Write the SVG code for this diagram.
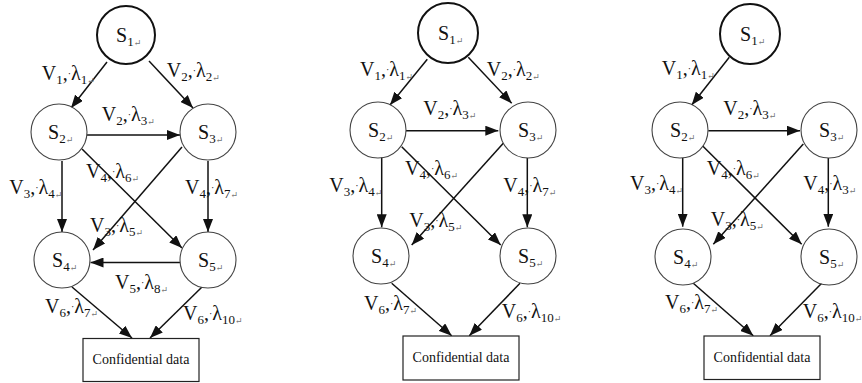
<svg xmlns="http://www.w3.org/2000/svg" width="862" height="383" viewBox="0 0 862 383">
<style>
.bg{fill:#fff}
.n{fill:#fff;stroke:#444;stroke-width:1.1}
.n1{fill:#fff;stroke:#111;stroke-width:2}
.box{fill:#fff;stroke:#222;stroke-width:1.2}
.e{stroke:#111;stroke-width:1.5;fill:none;marker-end:url(#ah)}
.t{font-family:'Liberation Serif','DejaVu Serif',serif;fill:#111}
.lbl{font-size:20px}
.sub{font-size:13px}
.dot{font-size:10px}
.ret{font-size:9px;fill:#777}
.bt{font-size:14px}
</style>
<defs>
<marker id="ah" markerUnits="userSpaceOnUse" markerWidth="13" markerHeight="10" refX="13" refY="5" orient="auto">
<path d="M0,0 L13,5 L0,10 z" fill="#111"/>
</marker>
</defs>
<rect class="bg" x="0" y="0" width="862" height="383"/>

<g id="connectors">
<line class="e" x1="107" y1="62" x2="71" y2="108"/>
<line class="e" x1="149" y1="61" x2="193" y2="108"/>
<line class="e" x1="87" y1="135" x2="180" y2="135"/>
<line class="e" x1="82" y1="149" x2="182" y2="248"/>
<line class="e" x1="182" y1="147" x2="93" y2="250"/>
<line class="e" x1="62" y1="161" x2="62" y2="232"/>
<line class="e" x1="208" y1="161" x2="208" y2="232"/>
<line class="e" x1="180" y1="262.5" x2="90.5" y2="262.5"/>
<line class="e" x1="72" y1="287" x2="132" y2="338"/>
<line class="e" x1="202" y1="287" x2="150" y2="338"/>
<line class="e" x1="427.3" y1="59.3" x2="390" y2="105"/>
<line class="e" x1="468.3" y1="57.3" x2="511.7" y2="103.3"/>
<line class="e" x1="406" y1="130.7" x2="498.3" y2="130.7"/>
<line class="e" x1="401.7" y1="146.7" x2="500.7" y2="245"/>
<line class="e" x1="503.3" y1="143.3" x2="411.7" y2="245"/>
<line class="e" x1="381.7" y1="156.7" x2="381.7" y2="227.3"/>
<line class="e" x1="527.3" y1="156.7" x2="527.3" y2="227.3"/>
<line class="e" x1="391.7" y1="283.3" x2="451.7" y2="335.7"/>
<line class="e" x1="520" y1="283.3" x2="469.3" y2="335.7"/>
<line class="e" x1="729.3" y1="57.3" x2="691.7" y2="105"/>
<line class="e" x1="708.3" y1="130.7" x2="800" y2="130.7"/>
<line class="e" x1="701.7" y1="145" x2="801.7" y2="244.3"/>
<line class="e" x1="803.3" y1="144" x2="713.3" y2="244.3"/>
<line class="e" x1="682.7" y1="158" x2="682.7" y2="226.7"/>
<line class="e" x1="828.3" y1="158" x2="828.3" y2="226.7"/>
<line class="e" x1="693.3" y1="283.3" x2="753.3" y2="335.7"/>
<line class="e" x1="821.7" y1="283.3" x2="770" y2="335.7"/>
</g>

<g id="edge-labels" class="t lbl" font-family="'Liberation Serif','DejaVu Serif',serif">
<text x="41.7" y="80">V<tspan class="sub" dy="4">1</tspan><tspan dy="-4">,</tspan><tspan class="dot" dy="-3">·</tspan><tspan dy="3">λ</tspan><tspan class="sub" dy="4">1</tspan><tspan class="ret">↵</tspan></text>
<text x="166.7" y="77">V<tspan class="sub" dy="4">2</tspan><tspan dy="-4">,</tspan><tspan class="dot" dy="-3">·</tspan><tspan dy="3">λ</tspan><tspan class="sub" dy="4">2</tspan><tspan class="ret">↵</tspan></text>
<text x="101.7" y="120.7">V<tspan class="sub" dy="4">2</tspan><tspan dy="-4">,</tspan><tspan class="dot" dy="-3">·</tspan><tspan dy="3">λ</tspan><tspan class="sub" dy="4">3</tspan><tspan class="ret">↵</tspan></text>
<text x="86" y="178">V<tspan class="sub" dy="4">4</tspan><tspan dy="-4">,</tspan><tspan class="dot" dy="-3">·</tspan><tspan dy="3">λ</tspan><tspan class="sub" dy="4">6</tspan><tspan class="ret">↵</tspan></text>
<text x="9.3" y="194">V<tspan class="sub" dy="4">3</tspan><tspan dy="-4">,</tspan><tspan class="dot" dy="-3">·</tspan><tspan dy="3">λ</tspan><tspan class="sub" dy="4">4</tspan><tspan class="ret">↵</tspan></text>
<text x="185" y="194">V<tspan class="sub" dy="4">4</tspan><tspan dy="-4">,</tspan><tspan class="dot" dy="-3">·</tspan><tspan dy="3">λ</tspan><tspan class="sub" dy="4">7</tspan><tspan class="ret">↵</tspan></text>
<text x="90" y="231.7">V<tspan class="sub" dy="4">3</tspan><tspan dy="-4">,</tspan><tspan class="dot" dy="-3">·</tspan><tspan dy="3">λ</tspan><tspan class="sub" dy="4">5</tspan><tspan class="ret">↵</tspan></text>
<text x="115" y="289">V<tspan class="sub" dy="4">5</tspan><tspan dy="-4">,</tspan><tspan class="dot" dy="-3">·</tspan><tspan dy="3">λ</tspan><tspan class="sub" dy="4">8</tspan><tspan class="ret">↵</tspan></text>
<text x="45" y="312.7">V<tspan class="sub" dy="4">6</tspan><tspan dy="-4">,</tspan><tspan class="dot" dy="-3">·</tspan><tspan dy="3">λ</tspan><tspan class="sub" dy="4">7</tspan><tspan class="ret">↵</tspan></text>
<text x="183" y="320">V<tspan class="sub" dy="4">6</tspan><tspan dy="-4">,</tspan><tspan class="dot" dy="-3">·</tspan><tspan dy="3">λ</tspan><tspan class="sub" dy="4">10</tspan><tspan class="ret">↵</tspan></text>
<text x="360" y="76">V<tspan class="sub" dy="4">1</tspan><tspan dy="-4">,</tspan><tspan class="dot" dy="-3">·</tspan><tspan dy="3">λ</tspan><tspan class="sub" dy="4">1</tspan><tspan class="ret">↵</tspan></text>
<text x="486.7" y="76">V<tspan class="sub" dy="4">2</tspan><tspan dy="-4">,</tspan><tspan class="dot" dy="-3">·</tspan><tspan dy="3">λ</tspan><tspan class="sub" dy="4">2</tspan><tspan class="ret">↵</tspan></text>
<text x="423.3" y="115">V<tspan class="sub" dy="4">2</tspan><tspan dy="-4">,</tspan><tspan class="dot" dy="-3">·</tspan><tspan dy="3">λ</tspan><tspan class="sub" dy="4">3</tspan><tspan class="ret">↵</tspan></text>
<text x="405" y="175">V<tspan class="sub" dy="4">4</tspan><tspan dy="-4">,</tspan><tspan class="dot" dy="-3">·</tspan><tspan dy="3">λ</tspan><tspan class="sub" dy="4">6</tspan><tspan class="ret">↵</tspan></text>
<text x="329.3" y="191.7">V<tspan class="sub" dy="4">3</tspan><tspan dy="-4">,</tspan><tspan class="dot" dy="-3">·</tspan><tspan dy="3">λ</tspan><tspan class="sub" dy="4">4</tspan><tspan class="ret">↵</tspan></text>
<text x="503.3" y="191.7">V<tspan class="sub" dy="4">4</tspan><tspan dy="-4">,</tspan><tspan class="dot" dy="-3">·</tspan><tspan dy="3">λ</tspan><tspan class="sub" dy="4">7</tspan><tspan class="ret">↵</tspan></text>
<text x="409.3" y="227.3">V<tspan class="sub" dy="4">3</tspan><tspan dy="-4">,</tspan><tspan class="dot" dy="-3">·</tspan><tspan dy="3">λ</tspan><tspan class="sub" dy="4">5</tspan><tspan class="ret">↵</tspan></text>
<text x="364" y="310">V<tspan class="sub" dy="4">6</tspan><tspan dy="-4">,</tspan><tspan class="dot" dy="-3">·</tspan><tspan dy="3">λ</tspan><tspan class="sub" dy="4">7</tspan><tspan class="ret">↵</tspan></text>
<text x="501.7" y="318.3">V<tspan class="sub" dy="4">6</tspan><tspan dy="-4">,</tspan><tspan class="dot" dy="-3">·</tspan><tspan dy="3">λ</tspan><tspan class="sub" dy="4">10</tspan><tspan class="ret">↵</tspan></text>
<text x="661.7" y="75">V<tspan class="sub" dy="4">1</tspan><tspan dy="-4">,</tspan><tspan class="dot" dy="-3">·</tspan><tspan dy="3">λ</tspan><tspan class="sub" dy="4">1</tspan><tspan class="ret">↵</tspan></text>
<text x="723.3" y="115">V<tspan class="sub" dy="4">2</tspan><tspan dy="-4">,</tspan><tspan class="dot" dy="-3">·</tspan><tspan dy="3">λ</tspan><tspan class="sub" dy="4">3</tspan><tspan class="ret">↵</tspan></text>
<text x="706.7" y="175">V<tspan class="sub" dy="4">4</tspan><tspan dy="-4">,</tspan><tspan class="dot" dy="-3">·</tspan><tspan dy="3">λ</tspan><tspan class="sub" dy="4">6</tspan><tspan class="ret">↵</tspan></text>
<text x="630" y="190">V<tspan class="sub" dy="4">3</tspan><tspan dy="-4">,</tspan><tspan class="dot" dy="-3">·</tspan><tspan dy="3">λ</tspan><tspan class="sub" dy="4">4</tspan><tspan class="ret">↵</tspan></text>
<text x="803.3" y="190">V<tspan class="sub" dy="4">4</tspan><tspan dy="-4">,</tspan><tspan class="dot" dy="-3">·</tspan><tspan dy="3">λ</tspan><tspan class="sub" dy="4">3</tspan><tspan class="ret">↵</tspan></text>
<text x="710.7" y="226">V<tspan class="sub" dy="4">3</tspan><tspan dy="-4">,</tspan><tspan class="dot" dy="-3">·</tspan><tspan dy="3">λ</tspan><tspan class="sub" dy="4">5</tspan><tspan class="ret">↵</tspan></text>
<text x="665" y="309">V<tspan class="sub" dy="4">6</tspan><tspan dy="-4">,</tspan><tspan class="dot" dy="-3">·</tspan><tspan dy="3">λ</tspan><tspan class="sub" dy="4">7</tspan><tspan class="ret">↵</tspan></text>
<text x="802.7" y="318.3">V<tspan class="sub" dy="4">6</tspan><tspan dy="-4">,</tspan><tspan class="dot" dy="-3">·</tspan><tspan dy="3">λ</tspan><tspan class="sub" dy="4">10</tspan><tspan class="ret">↵</tspan></text>
</g>

<g class="t" font-family="'Liberation Serif','DejaVu Serif',serif">
<g id="d1-S1"><circle class="n1" cx="126" cy="35" r="29"/><text class="lbl" x="116" y="42">S<tspan class="sub" dy="4">1</tspan><tspan class="ret">↵</tspan></text></g>
<g id="d1-S2"><circle class="n" cx="59" cy="132" r="28"/><text class="lbl" x="48" y="139">S<tspan class="sub" dy="4">2</tspan><tspan class="ret">↵</tspan></text></g>
<g id="d1-S3"><circle class="n" cx="208" cy="132" r="28"/><text class="lbl" x="198" y="139">S<tspan class="sub" dy="4">3</tspan><tspan class="ret">↵</tspan></text></g>
<g id="d1-S4"><circle class="n" cx="62" cy="260" r="28"/><text class="lbl" x="52" y="267">S<tspan class="sub" dy="4">4</tspan><tspan class="ret">↵</tspan></text></g>
<g id="d1-S5"><circle class="n" cx="208" cy="260" r="28"/><text class="lbl" x="198" y="267">S<tspan class="sub" dy="4">5</tspan><tspan class="ret">↵</tspan></text></g>
<g id="d1-data"><rect class="box" x="83" y="338.5" width="116" height="43"/><text class="bt" x="141" y="364" text-anchor="middle">Confidential data</text></g>

<g id="d2-S1"><circle class="n1" cx="448" cy="33" r="30"/><text class="lbl" x="438" y="40">S<tspan class="sub" dy="4">1</tspan><tspan class="ret">↵</tspan></text></g>
<g id="d2-S2"><circle class="n" cx="378" cy="130" r="28"/><text class="lbl" x="368" y="137">S<tspan class="sub" dy="4">2</tspan><tspan class="ret">↵</tspan></text></g>
<g id="d2-S3"><circle class="n" cx="528" cy="130" r="28"/><text class="lbl" x="518" y="137">S<tspan class="sub" dy="4">3</tspan><tspan class="ret">↵</tspan></text></g>
<g id="d2-S4"><circle class="n" cx="381" cy="256" r="28"/><text class="lbl" x="371" y="263">S<tspan class="sub" dy="4">4</tspan><tspan class="ret">↵</tspan></text></g>
<g id="d2-S5"><circle class="n" cx="528" cy="256" r="28"/><text class="lbl" x="518" y="263">S<tspan class="sub" dy="4">5</tspan><tspan class="ret">↵</tspan></text></g>
<g id="d2-data"><rect class="box" x="403" y="336" width="116" height="44"/><text class="bt" x="461" y="361.7" text-anchor="middle">Confidential data</text></g>

<g id="d3-S1"><circle class="n1" cx="750" cy="34" r="30"/><text class="lbl" x="740" y="41">S<tspan class="sub" dy="4">1</tspan><tspan class="ret">↵</tspan></text></g>
<g id="d3-S2"><circle class="n" cx="680" cy="130" r="28"/><text class="lbl" x="670" y="137">S<tspan class="sub" dy="4">2</tspan><tspan class="ret">↵</tspan></text></g>
<g id="d3-S3"><circle class="n" cx="829" cy="130" r="28"/><text class="lbl" x="819" y="137">S<tspan class="sub" dy="4">3</tspan><tspan class="ret">↵</tspan></text></g>
<g id="d3-S4"><circle class="n" cx="683" cy="257" r="28"/><text class="lbl" x="673" y="264">S<tspan class="sub" dy="4">4</tspan><tspan class="ret">↵</tspan></text></g>
<g id="d3-S5"><circle class="n" cx="829" cy="257" r="28"/><text class="lbl" x="819" y="264">S<tspan class="sub" dy="4">5</tspan><tspan class="ret">↵</tspan></text></g>
<g id="d3-data"><rect class="box" x="704" y="336" width="116" height="43.5"/><text class="bt" x="762" y="361.7" text-anchor="middle">Confidential data</text></g>
</g>
</svg>
